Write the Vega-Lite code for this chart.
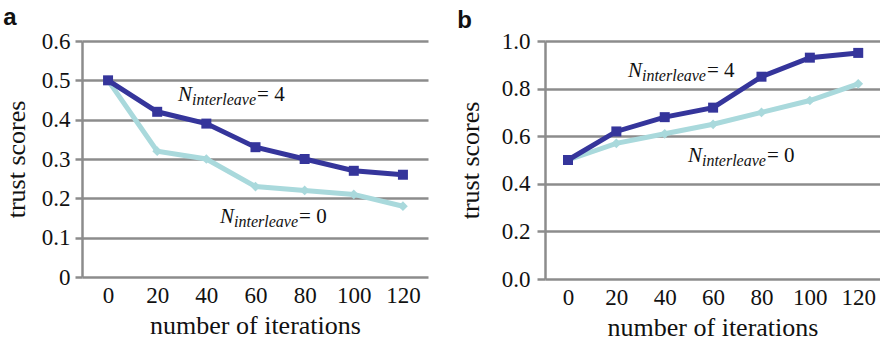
{
  "$schema": "https://vega.github.io/schema/vega-lite/v6.json",
  "background": "white",
  "padding": {"left": 3, "top": 6, "right": 0, "bottom": 0},
  "spacing": 29,
  "config": {
    "view": {"stroke": null},
    "axis": {
      "labelFont": "Liberation Serif",
      "labelFontSize": 23,
      "labelColor": "#111",
      "labelOverlap": false,
      "titleFont": "Liberation Serif",
      "titleFontSize": 26,
      "titleFontWeight": "normal",
      "titleColor": "#111"
    },
    "title": {"font": "Liberation Sans", "fontSize": 24, "fontWeight": "bold", "anchor": "start", "frame": "bounds", "color": "#111"}
  },
  "datasets": {
    "series": [
      {"panel": "a", "series": "N4", "iter": 0, "score": 0.50},
      {"panel": "a", "series": "N4", "iter": 20, "score": 0.42},
      {"panel": "a", "series": "N4", "iter": 40, "score": 0.39},
      {"panel": "a", "series": "N4", "iter": 60, "score": 0.33},
      {"panel": "a", "series": "N4", "iter": 80, "score": 0.30},
      {"panel": "a", "series": "N4", "iter": 100, "score": 0.27},
      {"panel": "a", "series": "N4", "iter": 120, "score": 0.26},
      {"panel": "a", "series": "N0", "iter": 0, "score": 0.50},
      {"panel": "a", "series": "N0", "iter": 20, "score": 0.32},
      {"panel": "a", "series": "N0", "iter": 40, "score": 0.30},
      {"panel": "a", "series": "N0", "iter": 60, "score": 0.23},
      {"panel": "a", "series": "N0", "iter": 80, "score": 0.22},
      {"panel": "a", "series": "N0", "iter": 100, "score": 0.21},
      {"panel": "a", "series": "N0", "iter": 120, "score": 0.18},
      {"panel": "b", "series": "N4", "iter": 0, "score": 0.50},
      {"panel": "b", "series": "N4", "iter": 20, "score": 0.62},
      {"panel": "b", "series": "N4", "iter": 40, "score": 0.68},
      {"panel": "b", "series": "N4", "iter": 60, "score": 0.72},
      {"panel": "b", "series": "N4", "iter": 80, "score": 0.85},
      {"panel": "b", "series": "N4", "iter": 100, "score": 0.93},
      {"panel": "b", "series": "N4", "iter": 120, "score": 0.95},
      {"panel": "b", "series": "N0", "iter": 0, "score": 0.50},
      {"panel": "b", "series": "N0", "iter": 20, "score": 0.57},
      {"panel": "b", "series": "N0", "iter": 40, "score": 0.61},
      {"panel": "b", "series": "N0", "iter": 60, "score": 0.65},
      {"panel": "b", "series": "N0", "iter": 80, "score": 0.70},
      {"panel": "b", "series": "N0", "iter": 100, "score": 0.75},
      {"panel": "b", "series": "N0", "iter": 120, "score": 0.82}
    ],
    "notes": [
      {"panel": "a", "iter": 28.5, "score": 0.448, "eq": "= 4"},
      {"panel": "a", "iter": 45.6, "score": 0.138, "eq": "= 0"},
      {"panel": "b", "iter": 24.8, "score": 0.85, "eq": "= 4"},
      {"panel": "b", "iter": 49.6, "score": 0.493, "eq": "= 0"}
    ]
  },
  "hconcat": [
    {
      "title": {"text": "a", "offset": 0},
      "width": 346,
      "height": 236,
      "encoding": {
        "x": {"field": "iter", "type": "quantitative", "scale": {"domain": [-10.6, 130.2], "nice": false, "zero": false},
          "axis": {"values": [0, 20, 40, 60, 80, 100, 120], "grid": false, "domain": false, "ticks": false, "labelPadding": 7, "titlePadding": 5, "title": "number of iterations"}},
        "y": {"field": "score", "type": "quantitative", "scale": {"domain": [0, 0.6], "nice": false},
          "axis": {"values": [0, 0.1, 0.2, 0.3, 0.4, 0.5, 0.6], "labelExpr": "datum.value == 0 ? '0' : format(datum.value, '.1f')", "grid": true, "gridColor": "#8c8c8c", "gridWidth": 2.5, "domainColor": "#8c8c8c", "domainWidth": 2.5, "tickColor": "#8c8c8c", "tickWidth": 2.5, "tickSize": 7, "labelPadding": 5, "titlePadding": 12, "title": "trust scores"}}
      },
      "layer": [
        {
          "data": {"name": "series"},
          "transform": [{"filter": "datum.panel == 'a' && datum.series == 'N0'"}],
          "mark": {"type": "line", "color": "#a9d9dc", "strokeWidth": 5}
        },
        {
          "data": {"name": "series"},
          "transform": [{"filter": "datum.panel == 'a' && datum.series == 'N0'"}],
          "mark": {"type": "point", "shape": "diamond", "filled": true, "color": "#a9d9dc", "size": 95, "opacity": 1}
        },
        {
          "data": {"name": "series"},
          "transform": [{"filter": "datum.panel == 'a' && datum.series == 'N4'"}],
          "mark": {"type": "line", "color": "#35359b", "strokeWidth": 5}
        },
        {
          "data": {"name": "series"},
          "transform": [{"filter": "datum.panel == 'a' && datum.series == 'N4'"}],
          "mark": {"type": "point", "shape": "square", "filled": true, "color": "#35359b", "size": 100, "opacity": 1}
        },
        {
          "data": {"name": "notes"},
          "transform": [{"filter": "datum.panel == 'a'"}],
          "mark": {"type": "text", "font": "Liberation Serif", "fontStyle": "italic", "fontSize": 21, "align": "left", "baseline": "alphabetic", "color": "#111"},
          "encoding": {"text": {"value": "N"}}
        },
        {
          "data": {"name": "notes"},
          "transform": [{"filter": "datum.panel == 'a'"}],
          "mark": {"type": "text", "font": "Liberation Serif", "fontStyle": "italic", "fontSize": 16, "align": "left", "baseline": "alphabetic", "dx": 14, "dy": 4, "color": "#111"},
          "encoding": {"text": {"value": "interleave"}}
        },
        {
          "data": {"name": "notes"},
          "transform": [{"filter": "datum.panel == 'a'"}],
          "mark": {"type": "text", "font": "Liberation Serif", "fontSize": 21, "align": "left", "baseline": "alphabetic", "dx": 79, "color": "#111"},
          "encoding": {"text": {"field": "eq"}}
        }
      ]
    },
    {
      "title": {"text": "b", "offset": -3},
      "width": 335,
      "height": 238,
      "encoding": {
        "x": {"field": "iter", "type": "quantitative", "scale": {"domain": [-9.5, 129], "nice": false, "zero": false},
          "axis": {"values": [0, 20, 40, 60, 80, 100, 120], "grid": false, "domain": false, "ticks": false, "labelPadding": 7, "titlePadding": 5, "title": "number of iterations"}},
        "y": {"field": "score", "type": "quantitative", "scale": {"domain": [0, 1], "nice": false},
          "axis": {"values": [0, 0.2, 0.4, 0.6, 0.8, 1.0], "format": ".1f", "grid": true, "gridColor": "#8c8c8c", "gridWidth": 2.5, "domainColor": "#8c8c8c", "domainWidth": 2.5, "tickColor": "#8c8c8c", "tickWidth": 2.5, "tickSize": 8, "labelPadding": 7, "titlePadding": 18, "title": "trust scores"}}
      },
      "layer": [
        {
          "data": {"name": "series"},
          "transform": [{"filter": "datum.panel == 'b' && datum.series == 'N0'"}],
          "mark": {"type": "line", "color": "#a9d9dc", "strokeWidth": 5}
        },
        {
          "data": {"name": "series"},
          "transform": [{"filter": "datum.panel == 'b' && datum.series == 'N0'"}],
          "mark": {"type": "point", "shape": "diamond", "filled": true, "color": "#a9d9dc", "size": 95, "opacity": 1}
        },
        {
          "data": {"name": "series"},
          "transform": [{"filter": "datum.panel == 'b' && datum.series == 'N4'"}],
          "mark": {"type": "line", "color": "#35359b", "strokeWidth": 5}
        },
        {
          "data": {"name": "series"},
          "transform": [{"filter": "datum.panel == 'b' && datum.series == 'N4'"}],
          "mark": {"type": "point", "shape": "square", "filled": true, "color": "#35359b", "size": 100, "opacity": 1}
        },
        {
          "data": {"name": "notes"},
          "transform": [{"filter": "datum.panel == 'b'"}],
          "mark": {"type": "text", "font": "Liberation Serif", "fontStyle": "italic", "fontSize": 21, "align": "left", "baseline": "alphabetic", "color": "#111"},
          "encoding": {"text": {"value": "N"}}
        },
        {
          "data": {"name": "notes"},
          "transform": [{"filter": "datum.panel == 'b'"}],
          "mark": {"type": "text", "font": "Liberation Serif", "fontStyle": "italic", "fontSize": 16, "align": "left", "baseline": "alphabetic", "dx": 14, "dy": 4, "color": "#111"},
          "encoding": {"text": {"value": "interleave"}}
        },
        {
          "data": {"name": "notes"},
          "transform": [{"filter": "datum.panel == 'b'"}],
          "mark": {"type": "text", "font": "Liberation Serif", "fontSize": 21, "align": "left", "baseline": "alphabetic", "dx": 79, "color": "#111"},
          "encoding": {"text": {"field": "eq"}}
        }
      ]
    }
  ]
}
